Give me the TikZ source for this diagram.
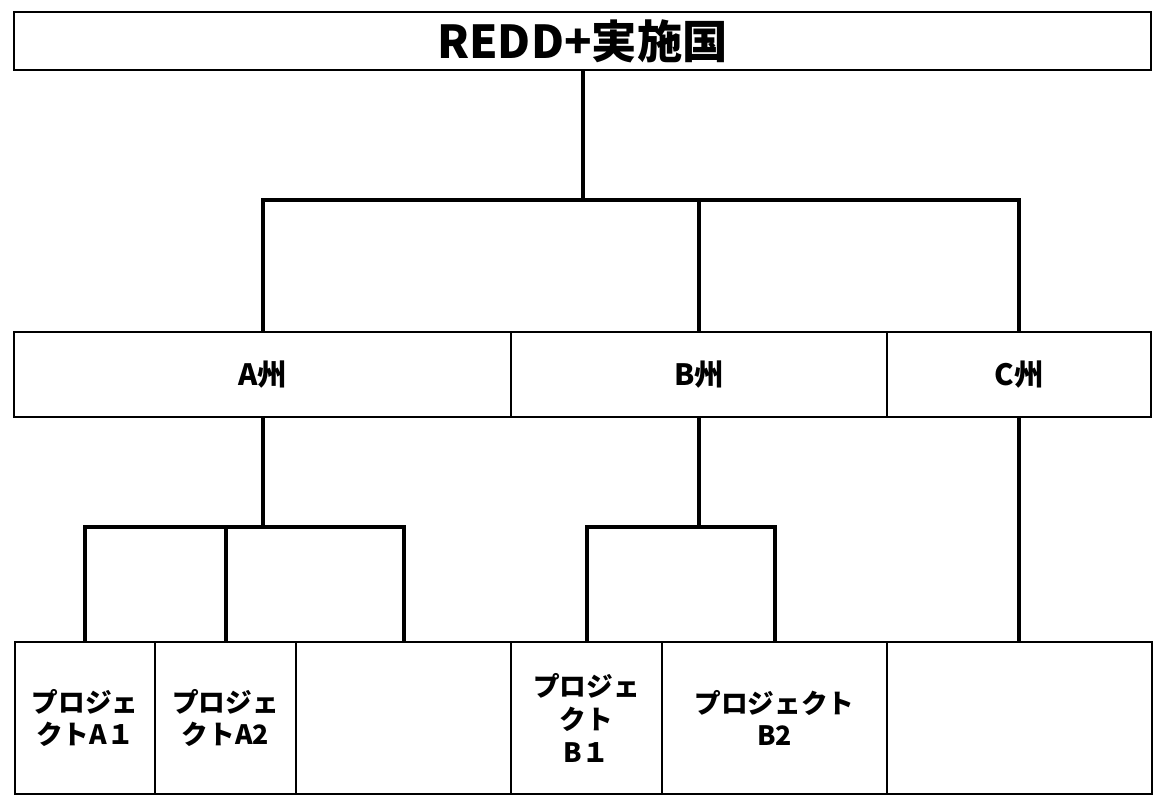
\documentclass[tikz,border=0pt]{standalone}
\usepackage{fontspec}
\setmainfont{Noto Sans CJK JP}
\begin{document}
\begin{tikzpicture}[x=0.75pt,y=-0.75pt,
  box/.style={draw=black,line width=1.5pt,fill=white,inner sep=0pt,align=center,font=\bfseries},
  conn/.style={draw=black,line width=3pt,line cap=butt},
  titletext/.style={font=\fontsize{34}{40}\selectfont\bfseries},
  statetext/.style={font=\fontsize{22}{26}\selectfont\bfseries},
  projtext/.style={font=\fontsize{20}{24.5}\selectfont\bfseries}]
\useasboundingbox (0,0) rectangle (1155,800);

% country
\node[box,titletext,minimum width=852.75pt,minimum height=43.5pt] (top) at (582.5,41) {REDD+実施国};

% states
\node[box,statetext,minimum width=372.75pt,minimum height=63.75pt] (A) at (262.5,374.5) {A州};
\node[box,statetext,minimum width=282pt,minimum height=63.75pt] (B) at (699,374.5) {B州};
\node[box,statetext,minimum width=198pt,minimum height=63.75pt] (C) at (1019,374.5) {C州};

% projects
\node[box,projtext,minimum width=105pt,minimum height=114pt] (A1) at (85,718) {プロジェ\\クトA１};
\node[box,projtext,minimum width=105.75pt,minimum height=114pt] (A2) at (225.5,718) {プロジェ\\クトA2};
\node[box,projtext,minimum width=161.25pt,minimum height=114pt] (A3) at (403.5,718) {};
\node[box,projtext,minimum width=113.25pt,minimum height=114pt] (B1) at (586.5,718) {プロジェ\\クト\\B１};
\node[box,projtext,minimum width=168.75pt,minimum height=114pt] (B2) at (774.5,718) {プロジェクト\\B2};
\node[box,projtext,minimum width=198.75pt,minimum height=114pt] (C1) at (1019.5,718) {};

% junction points of the connector buses
\coordinate (bus) at (top.south |- 0,200);
\coordinate (busA) at (A.south |- 0,527);
\coordinate (busB) at (B.south |- 0,527);

% country to states
\draw[conn] (top.south) -- (bus);
\draw[conn] (A.north) |- (bus) -| (C.north);
\draw[conn] (B.north) -- (B.north |- bus);

% state A to its projects
\draw[conn] (A.south) -- (busA);
\draw[conn] (A1.north) |- (busA) -| (A3.north);
\draw[conn] (A2.north) -- (A2.north |- busA);

% state B to its projects
\draw[conn] (B.south) -- (busB);
\draw[conn] (B1.north) |- (busB) -| (B2.north);

% state C to its project
\draw[conn] (C.south) -- (C.south |- C1.north);
\end{tikzpicture}
\end{document}
